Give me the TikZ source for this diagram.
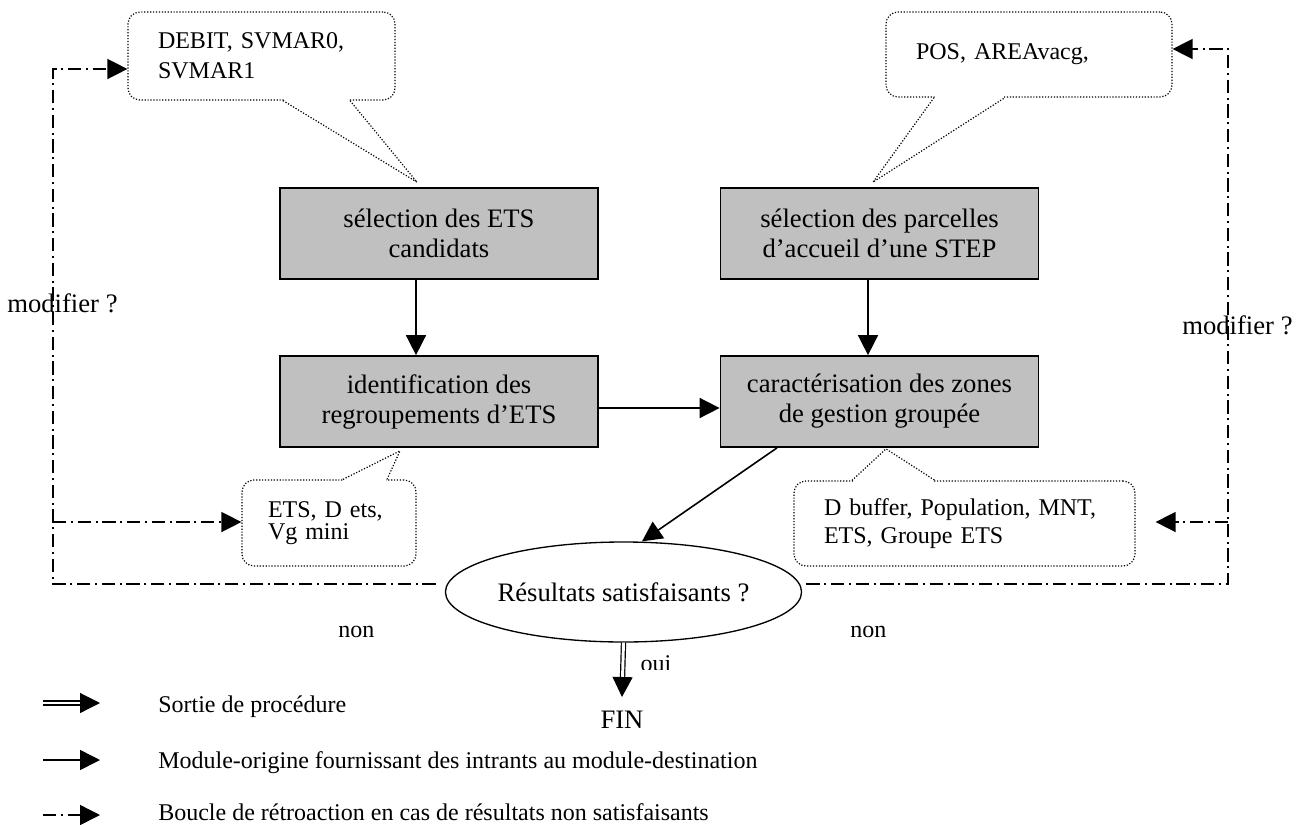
\documentclass[tikz,border=0pt]{standalone}
\usepackage{fontspec}
\setmainfont{Liberation Serif}
\usetikzlibrary{arrows.meta,shapes.geometric}
\definecolor{boxgray}{RGB}{192,192,192}
\begin{document}
\begin{tikzpicture}[x=0.75pt,y=-0.75pt,
  every node/.style={inner sep=0pt, font=\fontsize{18}{21}\selectfont},
  big/.style={font=\fontsize{20}{22.5}\selectfont},
  module/.style={draw, line width=1.3pt, fill=boxgray, minimum width=238.5pt, minimum height=68.25pt, align=center, big},
  bubble/.style={line width=0.9pt, dash pattern=on 0.9pt off 1.3pt},
  bubblebody/.style={bubble, draw, rounded corners=9pt, align=left, inner ysep=0pt},
  tri/.style={-{Triangle[length=15pt,width=15pt]}},
  flow/.style={line width=1.2pt, tri},
  fb/.style={line width=1.1pt, dash pattern=on 10pt off 3.5pt on 1.5pt off 3.5pt, tri},
  exitarrow/.style={double, double distance=2.2pt, line width=0.9pt, tri}
]
\useasboundingbox (0,0) rectangle (1300,825);

% modules
\node[module] (A) at (439,233.5) {sélection des ETS\\candidats};
\node[module] (B) at (879.5,233.5) {sélection des parcelles\\d’accueil d’une STEP};
\node[module] (C) at (439,401.5) {identification des\\regroupements d’ETS};
\node[module] (D) at (879.5,401.5) {caractérisation des zones\\de gestion groupée};
\node[draw, ellipse, line width=1pt, minimum width=246.75pt, minimum height=75pt, big] (E) at (623.5,592) {Résultats satisfaisants ?};
\node[big] (FIN) at (622,720) {FIN};

% bubbles
\node[bubblebody, inner xsep=22.5pt, text width=155.25pt, minimum height=66pt, font=\fontsize{18}{22.5}\selectfont] (b1) at (261.5,56) {DEBIT, SVMAR0,\\SVMAR1};
\node[bubblebody, inner xsep=22.5pt, text width=169.5pt, minimum height=63.75pt] (b2) at (1029,54.5) {POS, AREAvacg,};
\node[bubblebody, inner xsep=19.5pt, text width=91.5pt, minimum height=64.5pt, font=\fontsize{18}{16.5}\selectfont] (b3) at (329,523) {ETS, D ets,\\Vg mini};
\node[bubblebody, inner xsep=22.5pt, text width=210.75pt, minimum height=63.75pt, font=\fontsize{18}{21}\selectfont] (b4) at (964.5,523.5) {D buffer, Population, MNT,\\ETS, Groupe ETS};

% bubble pointers
\fill[white] ([shift={(22.5,-2)}]b1.south) rectangle ([shift={(87.5,2)}]b1.south);
\draw[bubble] ([shift={(21.5,0)}]b1.south) -- ([shift={(-22,-5)}]A.north) -- ([shift={(88.5,0)}]b1.south);
\fill[white] ([shift={(-94,-2)}]b2.south) rectangle ([shift={(-25,2)}]b2.south);
\draw[bubble] ([shift={(-95,0)}]b2.south) -- ([shift={(-6.5,-5)}]B.north) -- ([shift={(-24,0)}]b2.south);
\fill[white] ([shift={(15,-2)}]b3.north) rectangle ([shift={(57,2)}]b3.north);
\draw[bubble] ([shift={(14,0)}]b3.north) -- ([shift={(-39,3)}]C.south) -- ([shift={(58,0)}]b3.north);
\fill[white] ([shift={(-111.5,-2)}]b4.north) rectangle ([shift={(-30.5,2)}]b4.north);
\draw[bubble] ([shift={(-112.5,0)}]b4.north) -- ([shift={(6.5,1)}]D.south) -- ([shift={(-29.5,0)}]b4.north);

% flow arrows
\draw[flow] ([shift={(-23,0)}]A.south) -- ([shift={(-23,0)}]C.north);
\draw[flow] ([shift={(-11.5,0)}]B.south) -- ([shift={(-11.5,0)}]D.north);
\draw[flow] ([shift={(0,6.5)}]C.east) -- ([shift={(0,6.5)}]D.west);
\draw[flow] ([shift={(-102.5,0)}]D.south) -- ([shift={(18.5,0)}]E.north);

% exit
\draw[exitarrow] (E.south) -- ([shift={(0,-14)}]FIN.north);
\begin{scope}
  \clip (630,650) rectangle (690,669.5);
  \node[anchor=base] (oui) at (656,671) {oui};
\end{scope}

% feedback loops
\coordinate (lc) at (53,584);
\coordinate (lt) at (53,69);
\coordinate (lm) at (53,522);
\coordinate (rc) at (1228,584);
\coordinate (rt) at (1228,49);
\coordinate (rm) at (1228,522);
\draw[fb] ([shift={(-9,-8)}]E.west) -- (lc) -- (lt) -- ([shift={(0,13)}]b1.west);
\draw[fb] (lm) -- (b3.west |- lm);
\draw[fb] ([shift={(4,-8)}]E.east) -- (rc) -- (rt) -- (b2.east |- rt);
\draw[fb] (rm) -- ([shift={(20,-1.5)}]b4.east);

% labels
\node[anchor=base west, big] (modl) at (7,312) {modifier ?};
\node[anchor=base west, big] (modr) at (1182,334) {modifier ?};
\node[anchor=base west] (nonl) at (338,637) {non};
\node[anchor=base west] (nonr) at (850,637) {non};

% legend
\coordinate (l1s) at (43,703); \coordinate (l1e) at (100,703);
\coordinate (l2s) at (43,760); \coordinate (l2e) at (100,760);
\coordinate (l3s) at (43,815); \coordinate (l3e) at (100,815);
\draw[exitarrow] (l1s) -- (l1e);
\draw[flow] (l2s) -- (l2e);
\draw[fb] (l3s) -- (l3e);
\node[anchor=base west] (t1) at (158,712) {Sortie de procédure};
\node[anchor=base west] (t2) at (158,768) {Module-origine fournissant des intrants au module-destination};
\node[anchor=base west] (t3) at (158,820) {Boucle de rétroaction en cas de résultats non satisfaisants};
\end{tikzpicture}
\end{document}
